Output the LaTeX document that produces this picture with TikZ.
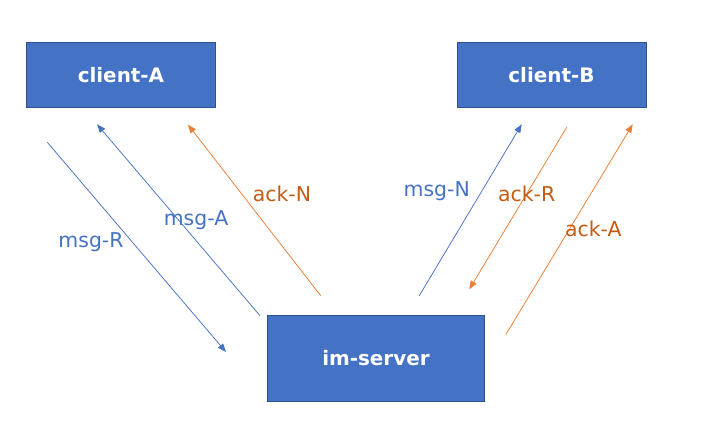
\documentclass[tikz,border=0pt]{standalone}
\usepackage{fontspec}
\setmainfont{DejaVu Sans}
\usetikzlibrary{arrows.meta}
\definecolor{boxfill}{HTML}{4472C4}
\definecolor{boxline}{HTML}{2F528F}
\definecolor{blueln}{HTML}{4472C4}
\definecolor{orangeln}{HTML}{ED7D31}
\definecolor{orangetx}{HTML}{C55A11}
\tikzset{
  boxnode/.style={draw=boxline, line width=0.9pt, fill=boxfill, text=white,
    font=\fontsize{20}{24}\selectfont\bfseries, anchor=north west, inner sep=0pt},
  bluearrow/.style={draw=blueln, line width=0.75pt, -{Triangle[length=8.5pt,width=6.5pt]}},
  orangearrow/.style={draw=orangeln, line width=0.75pt, -{Triangle[length=8.5pt,width=6.5pt]}},
  bluelabel/.style={text=blueln, font=\fontsize{20.5}{24}\selectfont, inner sep=0pt},
  orangelabel/.style={text=orangetx, font=\fontsize{20.5}{24}\selectfont, inner sep=0pt},
}
\begin{document}
\begin{tikzpicture}[x=1bp,y=-1bp]
\useasboundingbox (0,0) rectangle (707,431);
% boxes
\node[boxnode, minimum width=189bp, minimum height=65bp] (cA) at (26,42) {client-A};
\node[boxnode, minimum width=189bp, minimum height=65bp] (cB) at (456.5,42) {client-B};
\node[boxnode, minimum width=217bp, minimum height=86bp] (srv) at (267,315) {im-server};
% endpoints
\coordinate (rS) at (47.3,142.3);   \coordinate (rE) at (226,352);
\coordinate (aS) at (260,315.7);    \coordinate (aE) at (97,124.3);
\coordinate (nS) at (320.7,295.7);  \coordinate (nE) at (188,124.7);
\coordinate (mnS) at (419.3,295.7); \coordinate (mnE) at (521.7,124.3);
\coordinate (arS) at (566.7,127.3); \coordinate (arE) at (469.3,289.3);
\coordinate (aaS) at (506,334.3);   \coordinate (aaE) at (632.7,124.3);
% arrows
\draw[bluearrow] (rS) -- (rE);
\draw[bluearrow] (aS) -- (aE);
\draw[orangearrow] (nS) -- (nE);
\draw[bluearrow] (mnS) -- (mnE);
\draw[orangearrow] (arS) -- (arE);
\draw[orangearrow] (aaS) -- (aaE);
% labels
\node[bluelabel] (lR) at (91,242) {msg-R};
\node[bluelabel] (lA) at (196,220.5) {msg-A};
\node[orangelabel] (lN) at (282,193.5) {ack-N};
\node[bluelabel] (lmN) at (436.7,191.5) {msg-N};
\node[orangelabel] (lar) at (526.7,193.5) {ack-R};
\node[orangelabel] (laa) at (593.3,228.5) {ack-A};
\end{tikzpicture}
\end{document}
